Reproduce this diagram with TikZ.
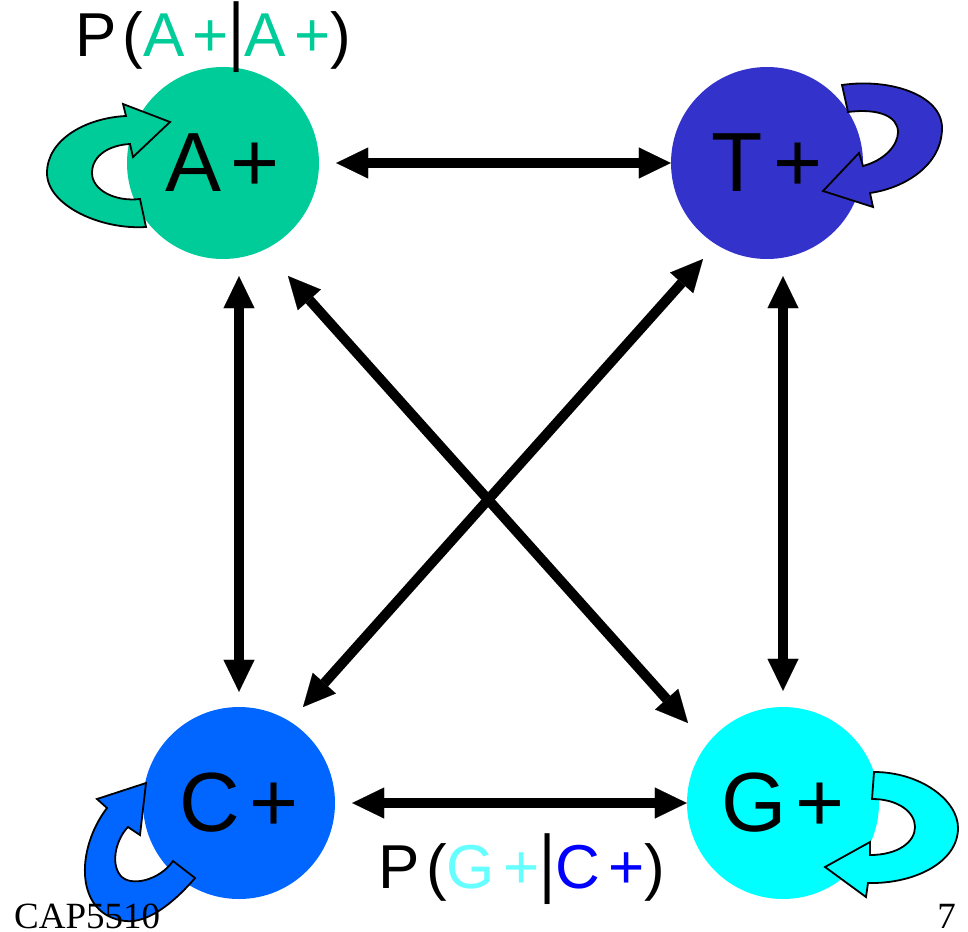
\documentclass[tikz,border=0pt]{standalone}
\usepackage{fontspec}
\usepackage{graphicx}
\setmainfont{Liberation Sans}
\newfontfamily\serifft{Liberation Serif}
\usetikzlibrary{arrows.meta,calc}
\definecolor{cA}{HTML}{00CC99}
\definecolor{cT}{HTML}{3333CC}
\definecolor{cC}{HTML}{0066FF}
\definecolor{cG}{HTML}{00FFFF}
\definecolor{cGl}{HTML}{66FFFF}
\definecolor{cCl}{HTML}{0000FF}
\newcommand{\tallbar}{\scalebox{1}[1.22]{|}}
\begin{document}
\begin{tikzpicture}[x=1pt,y=-1pt,
  stnode/.style={circle, minimum size=192pt, inner sep=0pt, font=\fontsize{84}{84}\selectfont},
  dbl/.style={line width=10pt, {Triangle[length=32pt,width=31pt,line width=0.1pt]}-{Triangle[length=32pt,width=31pt,line width=0.1pt]}},
  selfloop/.style={draw=black, line width=1.8pt, line join=miter},
  lab/.style={font=\fontsize{62}{62}\selectfont, inner sep=0pt, anchor=base},
  foot/.style={font=\serifft\fontsize{37}{37}\selectfont, inner sep=0pt}]
\useasboundingbox (0,0) rectangle (968,931);
% states
\node[stnode, fill=cA] (A) at (223,163) {A\kern9pt+};
\node[stnode, fill=cT] (T) at (767,163) {T\kern11pt+};
\node[stnode, fill=cC] (C) at (239,803) {C\kern9pt+};
\node[stnode, fill=cG] (G) at (783,803) {G\kern9pt+};
% straight double arrows
\draw[dbl, shorten <=17pt] (A) -- (T);
\draw[dbl, shorten <=17pt] (C) -- (G);
\draw[dbl, shorten <=17pt, shorten >=15pt] (A.south -| C.center) -- (C.north);
\draw[dbl, shorten <=17pt, shorten >=16pt] (T.south -| G.center) -- (G.north);
\coordinate (ag1) at ([shift={(65,113)}]A.center);
\coordinate (ag2) at ([shift={(-95,-80)}]G.center);
\coordinate (tc1) at ([shift={(-64,96)}]T.center);
\coordinate (tc2) at ([shift={(64,-96)}]C.center);
\draw[dbl] (ag1) -- (ag2);
\draw[dbl] (tc1) -- (tc2);
% self loops
\draw[selfloop, fill=cA] (170,122) -- (123,104) -- (126,116)
  .. controls (85,118) and (47,140) .. (47,173)
  .. controls (47,205) and (100,230) .. (146,227) -- (140,199)
  .. controls (115,202) and (92,190) .. (92,173)
  .. controls (92,155) and (110,145) .. (130,144) -- (133,157) -- cycle;
\draw[selfloop, fill=cT] (842,85)
  .. controls (890,78) and (942,95) .. (942,128)
  .. controls (942,165) and (905,188) .. (870,193) -- (873,207) -- (823,191) -- (859,153) -- (863,166)
  .. controls (885,160) and (898,145) .. (898,132)
  .. controls (898,117) and (880,108) .. (848,112) -- cycle;
\draw[selfloop, fill=cC] (146,783) -- (97,799) -- (107,808)
  .. controls (75,850) and (75,915) .. (125,921)
  .. controls (150,924) and (178,898) .. (195,878) -- (173,861)
  .. controls (160,880) and (130,888) .. (120,875)
  .. controls (110,862) and (117,838) .. (128,827) -- (140,835) -- cycle;
\draw[selfloop, fill=cG] (874,772)
  .. controls (920,772) and (958,800) .. (958,828)
  .. controls (958,862) and (915,884) .. (868,883) -- (866,897) -- (825,867) -- (870,842) -- (870,855)
  .. controls (898,855) and (915,842) .. (915,827)
  .. controls (915,812) and (898,799) .. (872,799) -- cycle;
% labels
\node[lab] (pAA) at (213,57) {P\kern6pt({\color{cA}A\kern8pt+}\tallbar{\color{cA}A\kern8pt+})};
\node[lab] (pGC) at (522,888) {P\kern6pt({\color{cGl}G\kern8pt+}\tallbar{\color{cCl}C\kern8pt+})};
% footer
\node[foot, anchor=base west] (course) at (14,928) {CAP5510};
\node[foot, anchor=base east] (page) at (956,928) {7};
\end{tikzpicture}
\end{document}
